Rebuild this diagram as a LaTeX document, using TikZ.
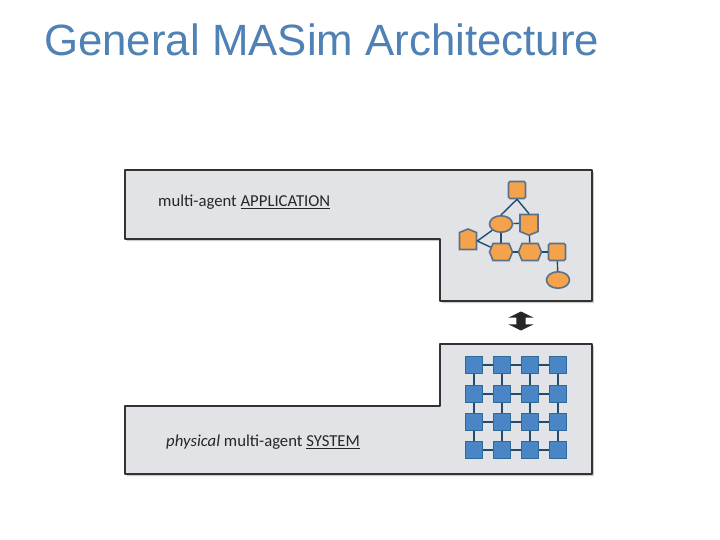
\documentclass[tikz,border=0pt]{standalone}
\usepackage{fontspec}
\setmainfont{Carlito}
\newfontfamily\titlefont{Liberation Sans}
\usepackage{xcolor}
\usetikzlibrary{shapes.geometric,shapes.symbols,shapes.arrows,shadows}
\definecolor{titleblue}{HTML}{4F81B5}
\definecolor{panelgray}{HTML}{E1E3E6}
\definecolor{agentorange}{HTML}{F5A24C}
\definecolor{agentedge}{HTML}{5A7288}
\definecolor{coreblue}{HTML}{4A86C5}
\definecolor{coreedge}{HTML}{30689A}
\definecolor{linkblue}{HTML}{1F4B70}

\tikzset{
  panel/.style={draw=black!80, line width=1.7pt, fill=panelgray, line join=round,
    drop shadow={shadow xshift=1.8pt, shadow yshift=-2.2pt, opacity=.4}},
  label/.style={anchor=west, text=black!85, font=\fontsize{16.7pt}{20pt}\selectfont, inner sep=0pt},
  agent/.style={draw=agentedge, line width=1.6pt, fill=agentorange, inner sep=0pt},
  agentsq/.style={agent, rectangle, rounded corners=1.5pt, minimum size=17pt},
  agentel/.style={agent, ellipse, minimum width=23pt, minimum height=16.5pt},
  agenthex/.style={agent, signal, signal to=east and west, signal pointer angle=135,
    minimum width=23pt, minimum height=17pt},
  agentup/.style={agent, signal, signal to=north, signal pointer angle=135,
    minimum width=17pt, minimum height=17pt},
  agentdown/.style={agent, signal, signal to=south, signal pointer angle=135,
    minimum width=18pt, minimum height=17pt},
  core/.style={draw=coreedge, line width=1.4pt, fill=coreblue, rectangle, minimum size=17pt, inner sep=0pt},
  link/.style={draw=linkblue, line width=1.4pt},
}

\begin{document}
\begin{tikzpicture}[x=1pt, y=-1pt]
  \useasboundingbox[fill=white] (0,0) rectangle (720,540);

  % Title
  \node[anchor=west, inner sep=0pt, text=titleblue, font=\titlefont\fontsize{43.8pt}{50pt}\selectfont]
    (title) at (44,40) {General MASim Architecture};

  % Panels
  \draw[panel] (125,170) -- (592,170) -- (592,301) -- (440,301) -- (440,239) -- (125,239) -- cycle;
  \draw[panel] (440,344) -- (592,344) -- (592,474) -- (125,474) -- (125,406) -- (440,406) -- cycle;

  \node[label] (application) at (158,202.5) {multi-agent \underline{APPLICATION}};
  \node[label] (system) at (166,442.5) {\textit{physical} multi-agent \underline{SYSTEM}};

  % Application graph
  \node[agentsq] (top) at (517,190) {};
  \node[agentel] (ell) at (501,224) {};
  \node[agentdown] (shield) at (529,223) {};
  \node[agentup] (house) at (468,241) {};
  \node[agenthex] (hexa) at (501,252) {};
  \node[agenthex] (hexb) at (530,252) {};
  \node[agentsq] (right) at (557,252) {};
  \node[agentel] (low) at (558,280) {};

  \draw[link] (top.south) -- (ell.north);
  \draw[link] (top.south) -- (shield.north);
  \draw[link] (house.east) -- (ell);
  \draw[link] (house.east) -- (hexa);
  \foreach \a/\b in {ell/shield, ell/hexa, shield/hexb, hexa/hexb, hexb/right, right/low}
    \draw[link] (\a) -- (\b);

  % Double arrow
  \node[double arrow, fill=black!85, rotate=90, inner xsep=0pt, inner ysep=4.5pt, minimum height=19pt,
    double arrow head extend=8pt, double arrow head indent=0pt,
    double arrow tip angle=128] (swap) at (521,321) {};

  % System grid
  \foreach \i/\x in {1/474, 2/502, 3/530, 4/558}
    \foreach \j/\y in {1/365, 2/394, 3/422, 4/450}
      \node[core] (c\i\j) at (\x,\y) {};

  \foreach \j in {1,2,3,4}
    \foreach \i/\k in {1/2, 2/3, 3/4} {
      \draw[link] (c\i\j) -- (c\k\j);
      \draw[link] (c\j\i) -- (c\j\k);
    }
\end{tikzpicture}
\end{document}
